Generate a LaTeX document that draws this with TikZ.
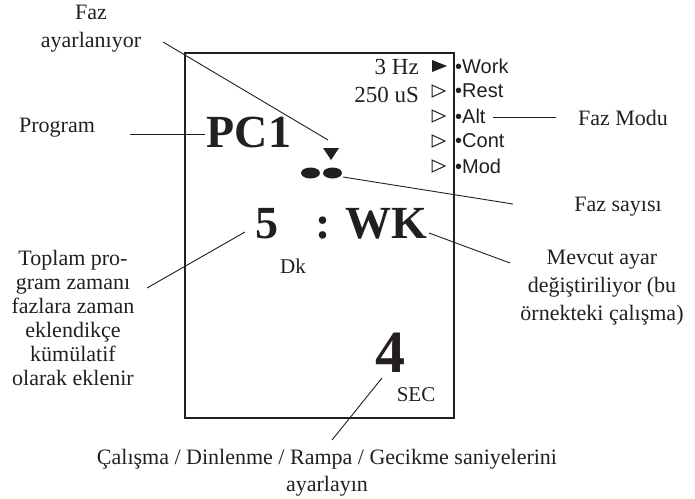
\documentclass[tikz,border=0pt]{standalone}
\usepackage{fontspec}
\setmainfont{Liberation Serif}
\setsansfont{Liberation Sans}
\usetikzlibrary{positioning}
\definecolor{ink}{RGB}{35,31,32}
\tikzset{callout text/.style={font=\fontsize{22}{28}\selectfont, align=center, inner sep=0pt, text=ink}}
\tikzset{lcd big/.style={font=\fontsize{46}{46}\selectfont\bfseries, inner sep=0pt, text=ink}}
\tikzset{lcd huge/.style={font=\fontsize{60}{60}\selectfont\bfseries, inner sep=0pt, text=ink}}
\tikzset{lcd readout/.style={font=\fontsize{23}{23}\selectfont, inner sep=0pt, text=ink}}
\tikzset{lcd small/.style={font=\fontsize{21}{21}\selectfont, inner sep=0pt, text=ink}}
\tikzset{mode item/.style={font=\sffamily\fontsize{20}{20}\selectfont, anchor=west, inner sep=0pt, text=ink}}
\tikzset{lcd frame/.style={draw=ink, line width=2.6pt}}
\tikzset{leader/.style={draw=ink, line width=0.9pt}}
\tikzset{mode mark/.style={draw=ink, line width=1pt, line join=miter}}

\begin{document}
\begin{tikzpicture}[x=1pt, y=-1pt]
  \useasboundingbox (0,0) rectangle (695,498);

  % display
  \draw [lcd frame] (185,53) rectangle (454,418);

  \node [lcd readout, anchor=east] (freq)    at (419, 67) {3 Hz};
  \node [lcd readout, anchor=east] (pulse)   at (419, 95) {250 uS};
  \node [lcd big]                  (prog)    at (249,132) {PC1};
  \node [lcd big, anchor=base]     (mins)    at (267,238) {5};
  \node [lcd big, anchor=base]     (colon)   at (323,238) {:};
  \node [lcd big, anchor=base]     (phase)   at (386,238) {WK};
  \node [lcd small, anchor=base]   (minunit) at (293,273) {Dk};
  \node [lcd huge, anchor=base]    (secs)    at (390,372) {4};
  \node [lcd small, anchor=base]   (secunit) at (416,401) {SEC};

  % mode list
  \foreach \mode [count=\i from 0] in {Work,Rest,Alt,Cont,Mod}
    \node [mode item] (mode\i) at (455, 66+25*\i) {•\mode};
  \fill [ink] (432,60) -- (447,66) -- (432,72) -- cycle;
  \foreach \i in {1,...,4}
    \draw [mode mark] (432,60+25*\i) -- (445,66+25*\i) -- (432,72+25*\i) -- cycle;

  % phase marker and phase dots
  \fill [ink] (323,148) -- (339,148) -- (331,160) -- cycle;
  \fill [ink] (310.5,173) ellipse [x radius=9.5pt, y radius=5.5pt];
  \fill [ink] (332.5,173) ellipse [x radius=9.5pt, y radius=5.5pt];

  % callouts
  \node [callout text]  (setlbl)   at ( 91, 29) {Faz\\ayarlanıyor};
  \node [callout text]  (proglbl)  at ( 57,128) {Program};
  \node [callout text]  (modelbl)  at (623,118) {Faz Modu};
  \node [callout text]  (countlbl) at (618,207) {Faz sayısı};
  \node [callout text]  (editlbl)  at (602,288) {Mevcut ayar\\değiştiriliyor (bu\\örnekteki çalışma)};
  \node [callout text, font=\fontsize{22}{24}\selectfont]
                        (totallbl) at ( 73,318) {Toplam pro-\\gram zamanı\\fazlara zaman\\eklendikçe\\kümülatif\\olarak eklenir};
  \node [callout text, font=\fontsize{22}{27}\selectfont]
                        (seclbl)   at (327,473) {Çalışma / Dinlenme / Rampa / Gecikme saniyelerini\\ayarlayın};

  \coordinate (set a)   at (163, 42);  \coordinate (set b)   at (328,140);
  \coordinate (prog a)  at (130,134);  \coordinate (prog b)  at (205,134);
  \coordinate (mode a)  at (493,117);  \coordinate (mode b)  at (556,117);
  \coordinate (count a) at (343,177);  \coordinate (count b) at (513,204);
  \coordinate (edit a)  at (429,233);  \coordinate (edit b)  at (510,263);
  \coordinate (total a) at (147,288);  \coordinate (total b) at (245,232);
  \coordinate (sec a)   at (382,378);  \coordinate (sec b)   at (332,440);

  \draw [leader] (set a)   -- (set b);
  \draw [leader] (prog a)  -- (prog b);
  \draw [leader] (mode a)  -- (mode b);
  \draw [leader] (count a) -- (count b);
  \draw [leader] (edit a)  -- (edit b);
  \draw [leader] (total a) -- (total b);
  \draw [leader] (sec a)   -- (sec b);
\end{tikzpicture}
\end{document}
